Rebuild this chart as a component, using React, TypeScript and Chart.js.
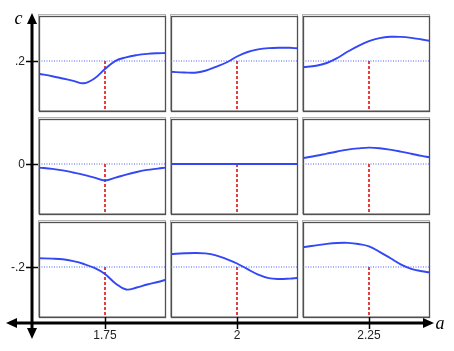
import React, { useEffect, useRef } from "react";
import { Chart, registerables } from "chart.js";

Chart.register(...registerables);

// Column centres (a) and row centres (c)
const aTicks = [1.75, 2, 2.25];
const cTicks = [0.2, 0, -0.2];
const aTickLabels = ["1.75", "2", "2.25"];
const cTickLabels = [".2", "0", "-.2"];

// local a offsets inside each panel
const localA = [-0.125, -0.1, -0.08, -0.06, -0.04, -0.02, 0, 0.02, 0.04, 0.06, 0.08, 0.1, 0.114];
// panel extent relative to its centre
const panelA = [-0.125, 0.114];
const panelC = [-0.097, 0.087];

// curve values (c), row-major
const curveR1C1 = [0.1753, 0.1704, 0.166, 0.1615, 0.1568, 0.166, 0.1845, 0.2004, 0.2072, 0.2113, 0.2138, 0.2151, 0.2155];
const curveR1C2 = [0.179, 0.1777, 0.1773, 0.181, 0.1887, 0.1971, 0.2087, 0.2175, 0.2225, 0.225, 0.2258, 0.2256, 0.2247];
const curveR1C3 = [0.188, 0.1907, 0.1961, 0.2058, 0.2184, 0.2295, 0.2384, 0.2443, 0.247, 0.2468, 0.2449, 0.2417, 0.2394];
const curveR2C1 = [-0.007, -0.0095, -0.0125, -0.0165, -0.021, -0.0265, -0.032, -0.0265, -0.0205, -0.0155, -0.0115, -0.009, -0.007];
const curveR2C2 = [0, 0, 0, 0, 0, 0, 0, 0, 0, 0, 0, 0, 0];
const curveR2C3 = [0.0115, 0.016, 0.0202, 0.0243, 0.028, 0.0303, 0.0317, 0.0307, 0.0278, 0.0241, 0.02, 0.0157, 0.013];
const curveR3C1 = [-0.1831, -0.1837, -0.185, -0.1887, -0.1942, -0.2019, -0.2136, -0.232, -0.2437, -0.2398, -0.234, -0.2291, -0.2252];
const curveR3C2 = [-0.1748, -0.1734, -0.1728, -0.1736, -0.1773, -0.1845, -0.1932, -0.2043, -0.2148, -0.2217, -0.2233, -0.2225, -0.2214];
const curveR3C3 = [-0.1616, -0.1579, -0.1551, -0.1534, -0.1532, -0.1553, -0.1598, -0.1705, -0.1825, -0.1948, -0.2035, -0.2082, -0.2103];

const curves = [
  [curveR1C1, curveR1C2, curveR1C3],
  [curveR2C1, curveR2C2, curveR2C3],
  [curveR3C1, curveR3C2, curveR3C3],
];

// scale ranges
const aMin = 1.55114;
const aMax = 2.41099;
const cMin = -0.36311;
const cMax = 0.31845;

const W = 454;
const H = 351;

export default function App() {
  const ref = useRef<HTMLCanvasElement | null>(null);

  useEffect(() => {
    if (!ref.current) return;
    const datasets: any[] = [];
    cTicks.forEach((c, r) => {
      aTicks.forEach((a, k) => {
        datasets.push({
          data: localA.map((d, i) => ({ x: a + d, y: curves[r][k][i] })),
          borderColor: "#3347f5",
          borderWidth: 1.9,
          pointRadius: 0,
          tension: 0.4,
          fill: false,
          order: 0,
        });
        datasets.push({
          data: [
            { x: a, y: c },
            { x: a, y: c + panelC[0] },
          ],
          borderColor: "#e52a2a",
          borderWidth: 1.8,
          borderDash: [3, 2],
          pointRadius: 0,
          fill: false,
          order: 1,
        });
        datasets.push({
          data: [
            { x: a + panelA[0], y: c },
            { x: a + panelA[1], y: c },
          ],
          borderColor: "#4d5fff",
          borderWidth: 1,
          borderDash: [1, 1.5],
          pointRadius: 0,
          fill: false,
          order: 2,
        });
      });
    });

    const framePlugin = {
      id: "frames",
      beforeDatasetsDraw(chart: any) {
        const ctx = chart.ctx;
        const xs = chart.scales.x;
        const ys = chart.scales.y;
        ctx.save();
        cTicks.forEach((c) => {
          aTicks.forEach((a) => {
            const l = Math.round(xs.getPixelForValue(a + panelA[0]));
            const r = Math.round(xs.getPixelForValue(a + panelA[1]));
            const t = Math.round(ys.getPixelForValue(c + panelC[1]));
            const b = Math.round(ys.getPixelForValue(c + panelC[0]));
            ctx.lineWidth = 1;
            ctx.strokeStyle = "#b4b4b4";
            ctx.strokeRect(l - 0.5, t - 1.5, r - l + 1, b - t + 1);
            ctx.strokeStyle = "#505050";
            ctx.lineWidth = 1.3;
            ctx.strokeRect(l + 0.5, t + 0.5, r - l, b - t);
          });
        });
        ctx.restore();
      },
    };

    const axesPlugin = {
      id: "axes",
      afterDraw(chart: any) {
        const ctx = chart.ctx;
        const xs = chart.scales.x;
        const ys = chart.scales.y;
        const ax = 32; // c-axis x
        const ay = 323; // a-axis y
        ctx.save();
        ctx.strokeStyle = "#000";
        ctx.fillStyle = "#000";
        ctx.lineWidth = 3;
        ctx.beginPath();
        ctx.moveTo(ax, 20);
        ctx.lineTo(ax, 332);
        ctx.moveTo(14, ay);
        ctx.lineTo(428, ay);
        ctx.stroke();
        const tri = (p: number[][]) => {
          ctx.beginPath();
          ctx.moveTo(p[0][0], p[0][1]);
          ctx.lineTo(p[1][0], p[1][1]);
          ctx.lineTo(p[2][0], p[2][1]);
          ctx.closePath();
          ctx.fill();
        };
        tri([[ax, 13], [ax - 5, 24], [ax + 5, 24]]);
        tri([[ax, 339], [ax - 5, 328], [ax + 5, 328]]);
        tri([[6, ay], [17, ay - 5], [17, ay + 5]]);
        tri([[434, ay], [423, ay - 5], [423, ay + 5]]);
        ctx.lineWidth = 1.5;
        ctx.beginPath();
        cTicks.forEach((c) => {
          const y = Math.round(ys.getPixelForValue(c)) + 0.5;
          ctx.moveTo(26, y);
          ctx.lineTo(38, y);
        });
        aTicks.forEach((a) => {
          const x = Math.round(xs.getPixelForValue(a)) + 0.5;
          ctx.moveTo(x, 317);
          ctx.lineTo(x, 329);
        });
        ctx.stroke();
        ctx.fillStyle = "#222";
        ctx.font = '12px "Liberation Sans", Arial, sans-serif';
        ctx.textAlign = "right";
        ctx.textBaseline = "middle";
        cTicks.forEach((c, i) => {
          ctx.fillText(cTickLabels[i], 25, ys.getPixelForValue(c) + 1);
        });
        ctx.textAlign = "center";
        ctx.textBaseline = "top";
        aTicks.forEach((a, i) => {
          ctx.fillText(aTickLabels[i], xs.getPixelForValue(a), 330);
        });
        ctx.fillStyle = "#000";
        ctx.font = 'italic 18px "Liberation Serif", "DejaVu Serif", serif';
        ctx.textBaseline = "alphabetic";
        ctx.fillText("c", 18.5, 24);
        ctx.fillText("a", 440, 329);
        ctx.restore();
      },
    };

    const chart = new Chart(ref.current, {
      type: "line",
      data: { datasets },
      options: {
        animation: false,
        responsive: false,
        maintainAspectRatio: false,
        parsing: false as any,
        normalized: true,
        layout: { padding: 0 },
        plugins: {
          legend: { display: false },
          tooltip: { enabled: false },
          title: { display: false },
        },
        scales: {
          x: { type: "linear", min: aMin, max: aMax, display: false },
          y: { type: "linear", min: cMin, max: cMax, display: false },
        },
      },
      plugins: [framePlugin, axesPlugin],
    });
    return () => chart.destroy();
  }, []);

  return (
    <div style={{ position: "fixed", left: 0, top: 0, width: W, height: H, background: "#fff" }}>
      <canvas ref={ref} width={W} height={H} style={{ width: W, height: H, display: "block" }} />
    </div>
  );
}
